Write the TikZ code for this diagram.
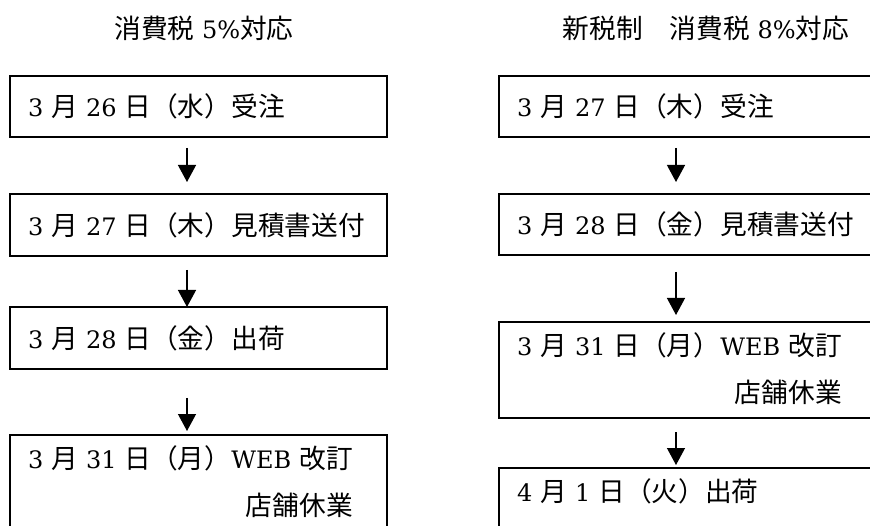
\documentclass[tikz,border=0pt]{standalone}
\usepackage{fontspec}
\setmainfont[Scale=0.9]{DejaVu Serif}
\newfontfamily\jp{Noto Sans CJK JP}
\usetikzlibrary{arrows.meta}
\newcommand\twoline[2]{\begin{tabular}{@{}r@{}}#1\\#2\end{tabular}}

\begin{document}
\begin{tikzpicture}[x=1pt, y=-1pt,
txt/.style = {font=\fontsize{26.7}{47}\selectfont},
box/.style = {txt, draw, line width=1.8pt, anchor=north west, outer sep=0pt,
              minimum height=61pt, text width=341pt, inner xsep=18pt,
              inner ysep=0pt, align=left},
tall/.style = {box, minimum height=96pt},
arr/.style = {line width=1.3pt, -{Triangle[width=18pt,length=17pt]}}
                        ]
\useasboundingbox (0,0) rectangle (870,526);
\clip (0,0) rectangle (870,526);
\def\dx{177pt}
% 5% side
\node[txt] (t5) at (204,28) {{\jp 消費税} 5\%{\jp 対応}};
\node[box] (a1) at (10,76) {3 {\jp 月} 26 {\jp 日（水）受注}};
\node[box, minimum height=62pt] (a2) at (10,194) {3 {\jp 月} 27 {\jp 日（木）見積書送付}};
\node[box, minimum height=62pt] (a3) at (10,307) {3 {\jp 月} 28 {\jp 日（金）出荷}};
\node[tall] (a4) at (10,435) {\twoline{3 {\jp 月} 31 {\jp 日（月）}WEB {\jp 改訂}}{\jp 店舗休業}};
% 8% side
\node[txt] (t8) at (706,28) {{\jp 新税制　消費税} 8\%{\jp 対応}};
\node[box] (b1) at (499,76) {3 {\jp 月} 27 {\jp 日（木）受注}};
\node[box] (b2) at (499,194) {3 {\jp 月} 28 {\jp 日（金）見積書送付}};
\node[tall] (b3) at (499,322) {\twoline{3 {\jp 月} 31 {\jp 日（月）}WEB {\jp 改訂}}{\jp 店舗休業}};
\node[tall] (b4) at (499,468) {\twoline{4 {\jp 月} 1 {\jp 日（火）出荷}}{\mbox{}}};
\draw[arr, shorten <=11pt, shorten >=12pt] ([xshift=\dx]a1.south west) -- ([xshift=\dx]a2.north west);
\draw[arr, shorten <=14pt] ([xshift=\dx]a2.south west) -- ([xshift=\dx]a3.north west);
\draw[arr, shorten <=29pt, shorten >=4pt] ([xshift=\dx]a3.south west) -- ([xshift=\dx]a4.north west);
\draw[arr, shorten <=11pt, shorten >=12pt] ([xshift=\dx]b1.south west) -- ([xshift=\dx]b2.north west);
\draw[arr, shorten <=17pt, shorten >=7pt] ([xshift=\dx]b2.south west) -- ([xshift=\dx]b3.north west);
\draw[arr, shorten <=14pt, shorten >=3pt] ([xshift=\dx]b3.south west) -- ([xshift=\dx]b4.north west);
\end{tikzpicture}
\end{document}
